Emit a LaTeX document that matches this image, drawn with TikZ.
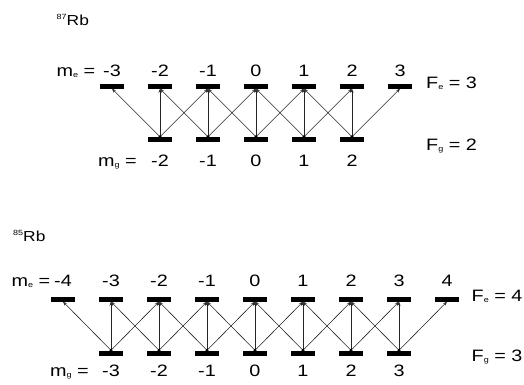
\documentclass[tikz,border=0pt]{standalone}
\usepackage{fontspec}
\setmainfont{Liberation Sans}
\newfontfamily\wide[FakeStretch=1.2]{Liberation Sans}
\usetikzlibrary{arrows.meta}
\newcommand{\lsub}[1]{\raisebox{-1.2pt}{\fontsize{7.5}{8}\selectfont #1}}
\newcommand{\lsup}[1]{\raisebox{6pt}{\fontsize{7.5}{8}\selectfont #1}}
\begin{document}
\begin{tikzpicture}[x=1pt,y=1pt,
  bar/.style={fill=black, minimum width=24pt, minimum height=5pt, inner sep=0pt, draw=none},
  lbl/.style={font=\wide\fontsize{16.5}{18}\selectfont, inner sep=0pt, anchor=base},
  iso/.style={font=\wide\fontsize{14.5}{16}\selectfont, inner sep=0pt, anchor=base west},
  trans/.style={-{Stealth[length=4pt,width=3pt]}, line width=0.6pt, draw=black!85},
  dotc/.style={fill=black, draw=none}]
\useasboundingbox (0,0) rectangle (524,384);
% ---------- 87Rb ----------
\node[iso] (t87) at (56.5,359) {\lsup{87}Rb};
\node[lbl, anchor=base east] (me87) at (95.5,307.5) {m\lsub{e} =};
\node[lbl, anchor=base east] (mg87) at (137,217.3) {m\lsub{g} =};
\node[lbl, anchor=base west] (fe87) at (426,295.7) {F\lsub{e} = 3};
\node[lbl, anchor=base west] (fg87) at (426,234) {F\lsub{g} = 2};
\foreach \i/\m in {0/-3,1/-2,2/-1,3/0,4/1,5/2,6/3}{
  \node[bar] (e87-\i) at (112+48*\i,298) {};
  \node[lbl] (le87-\i) at (112+48*\i,307.5) {\m};
}
\foreach \j/\m in {0/-2,1/-1,2/0,3/1,4/2}{
  \node[bar] (g87-\j) at (160+48*\j,244.5) {};
  \node[lbl] (lg87-\j) at (160+48*\j,217.3) {\m};
}
\foreach \j in {0,...,4}{
  \pgfmathtruncatemacro{\a}{\j}
  \pgfmathtruncatemacro{\b}{\j+1}
  \pgfmathtruncatemacro{\c}{\j+2}
  \draw[trans] (g87-\j.north) -- (e87-\a.south);
  \draw[trans] (g87-\j.north) -- (e87-\b.south);
  \draw[trans] (g87-\j.north) -- (e87-\c.south);
  \fill[dotc] (g87-\j.north) circle (1.6pt);
}
% ---------- 85Rb ----------
\node[iso] (t85) at (13,143) {\lsup{85}Rb};
\node[lbl, anchor=base east] (me85) at (50.5,97.3) {m\lsub{e} =};
\node[lbl, anchor=base east] (mg85) at (88.8,7.3) {m\lsub{g} =};
\node[lbl, anchor=base west] (fe85) at (471.5,82.3) {F\lsub{e} = 4};
\node[lbl, anchor=base west] (fg85) at (471.5,22.3) {F\lsub{g} = 3};
\foreach \i/\m in {0/-4,1/-3,2/-2,3/-1,4/0,5/1,6/2,7/3,8/4}{
  \node[bar] (e85-\i) at (63+48*\i,85) {};
  \node[lbl] (le85-\i) at (63+48*\i,97.3) {\m};
}
\foreach \j/\m in {0/-3,1/-2,2/-1,3/0,4/1,5/2,6/3}{
  \node[bar] (g85-\j) at (111+48*\j,31) {};
  \node[lbl] (lg85-\j) at (111+48*\j,7.3) {\m};
}
\foreach \j in {0,...,6}{
  \pgfmathtruncatemacro{\a}{\j}
  \pgfmathtruncatemacro{\b}{\j+1}
  \pgfmathtruncatemacro{\c}{\j+2}
  \draw[trans] (g85-\j.north) -- (e85-\a.south);
  \draw[trans] (g85-\j.north) -- (e85-\b.south);
  \draw[trans] (g85-\j.north) -- (e85-\c.south);
  \fill[dotc] (g85-\j.north) circle (1.6pt);
}
\end{tikzpicture}
\end{document}
